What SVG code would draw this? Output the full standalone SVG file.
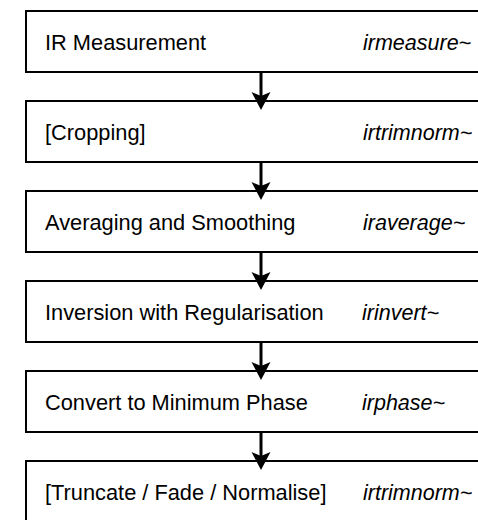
<svg xmlns="http://www.w3.org/2000/svg" width="478" height="520" viewBox="0 0 478 520">
<style>
.box{fill:#fff;stroke:#000;stroke-width:2}
.lbl{font-family:"Liberation Sans",Arial,sans-serif;font-size:21.8px;fill:#000}
.obj{font-family:"Liberation Sans",Arial,sans-serif;font-size:21.5px;font-style:italic;fill:#000}
.shaft{stroke:#000;stroke-width:3;fill:none}
.head{fill:#000;stroke:none}
</style>
<rect width="478" height="520" fill="#fff"/>
<g id="n1"><rect class="box" x="26" y="11" width="470" height="61"/><text class="lbl" x="45" y="49.5">IR Measurement</text><text class="obj" x="363" y="49.5">irmeasure~</text></g>
<g id="n2"><rect class="box" x="26" y="101" width="470" height="61"/><text class="lbl" x="45" y="139.5">[Cropping]</text><text class="obj" x="363" y="139.5">irtrimnorm~</text></g>
<g id="n3"><rect class="box" x="26" y="191" width="470" height="61"/><text class="lbl" x="45" y="229.5">Averaging and Smoothing</text><text class="obj" x="363" y="229.5">iraverage~</text></g>
<g id="n4"><rect class="box" x="26" y="281" width="470" height="61"/><text class="lbl" x="45" y="319.5">Inversion with Regularisation</text><text class="obj" x="362" y="319.5">irinvert~</text></g>
<g id="n5"><rect class="box" x="26" y="371" width="470" height="61"/><text class="lbl" x="45" y="409.5">Convert to Minimum Phase</text><text class="obj" x="362" y="409.5">irphase~</text></g>
<g id="n6"><rect class="box" x="26" y="461" width="470" height="61"/><text class="lbl" x="45" y="499.5">[Truncate / Fade / Normalise]</text><text class="obj" x="363" y="499.5">irtrimnorm~</text></g>
<g id="connectors">
<g><line class="shaft" x1="261" y1="72" x2="261" y2="96"/><polygon class="head" points="261,110 251.5,92 261,96 270.5,92"/></g>
<g><line class="shaft" x1="261" y1="162" x2="261" y2="186"/><polygon class="head" points="261,200 251.5,182 261,186 270.5,182"/></g>
<g><line class="shaft" x1="261" y1="252" x2="261" y2="276"/><polygon class="head" points="261,290 251.5,272 261,276 270.5,272"/></g>
<g><line class="shaft" x1="261" y1="342" x2="261" y2="366"/><polygon class="head" points="261,380 251.5,362 261,366 270.5,362"/></g>
<g><line class="shaft" x1="261" y1="432" x2="261" y2="456"/><polygon class="head" points="261,470 251.5,452 261,456 270.5,452"/></g>
</g>
</svg>
